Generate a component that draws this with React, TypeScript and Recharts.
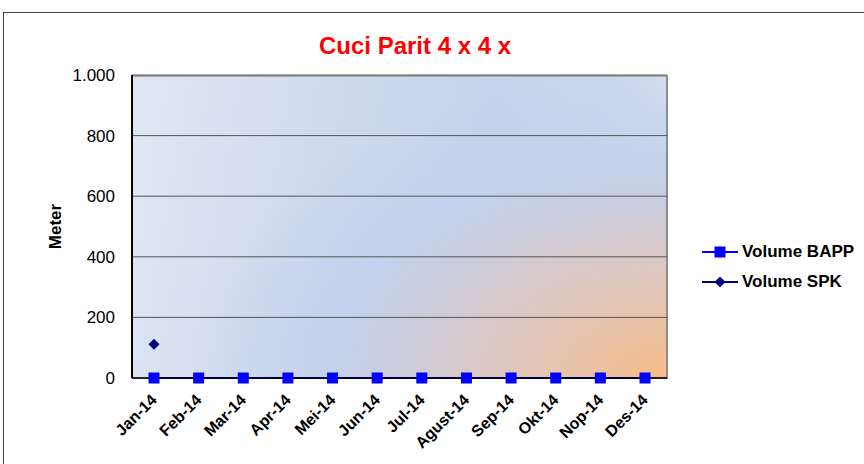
import { LineChart, Line, XAxis, YAxis, CartesianGrid, Legend } from 'recharts';

const months = ['Jan-14', 'Feb-14', 'Mar-14', 'Apr-14', 'Mei-14', 'Jun-14', 'Jul-14', 'Agust-14', 'Sep-14', 'Okt-14', 'Nop-14', 'Des-14'];
const volumeBapp = [0, 0, 0, 0, 0, 0, 0, 0, 0, 0, 0, 0];
const volumeSpk: (number | null)[] = [111, null, null, null, null, null, null, null, null, null, null, null];
const yTicks = [0, 200, 400, 600, 800, 1000];

const data = months.map((m, i) => ({ month: m, bapp: volumeBapp[i], spk: volumeSpk[i] }));

const FONT = '"Liberation Sans", Arial, sans-serif';

const Square = (props: any) => {
  const { cx, cy } = props;
  if (cx == null || cy == null) return null;
  return <rect x={cx - 5.5} y={cy - 5.5} width={11} height={11} fill="#0000ff" />;
};

const Diamond = (props: any) => {
  const { cx, cy, payload } = props;
  if (cx == null || cy == null || payload?.spk == null) return null;
  return <path d={`M${cx},${cy - 5.5}L${cx + 5.5},${cy}L${cx},${cy + 5.5}L${cx - 5.5},${cy}Z`} fill="#000080" />;
};

const XTick = ({ x, y, payload }: any) => (
  <text x={x} y={y + 11} transform={`rotate(-45 ${x} ${y + 11})`} textAnchor="end" dominantBaseline="central"
    fontFamily={FONT} fontSize={16} fontWeight="bold" fill="#000">
    {payload.value}
  </text>
);

const legendItems = [
  { label: 'Volume BAPP', color: '#0000ff', marker: 'square' },
  { label: 'Volume SPK', color: '#000080', marker: 'diamond' },
];

const LegendContent = () => (
  <div style={{ fontFamily: FONT, fontSize: 17, fontWeight: 'bold', color: '#000' }}>
    {legendItems.map((it) => (
      <div key={it.label} style={{ display: 'flex', alignItems: 'center', height: 30 }}>
        <svg width={36} height={12} style={{ marginRight: 4 }}>
          <line x1={0} y1={6} x2={36} y2={6} stroke={it.color} strokeWidth={2} />
          {it.marker === 'square'
            ? <rect x={12.5} y={0.5} width={11} height={11} fill={it.color} />
            : <path d="M18,0.5L23.5,6L18,11.5L12.5,6Z" fill={it.color} />}
        </svg>
        <span>{it.label}</span>
      </div>
    ))}
  </div>
);

export default function App() {
  return (
    <div style={{ position: 'absolute', left: 0, top: 0, width: 864, height: 464, overflow: 'hidden', background: '#fff' }}>
      <div style={{ position: 'absolute', left: 3, top: 12, width: 900, height: 500, border: '1px solid #404040' }} />
      <div style={{
        position: 'absolute', left: 133, top: 75, width: 533, height: 302,
        borderTop: '2px solid #a8a8a8', borderRight: '2px solid #8c8c8c',
        background: 'radial-gradient(ellipse 560px 360px at 100% 100%, #f7bc88 0%, #e6c4b0 20%, #d8c9ca 36%, #c8cde0 50%, rgba(194,209,236,0.95) 60%, rgba(194,209,236,0) 85%), linear-gradient(100deg, #e0e6f3 0%, #cfdaef 35%, #c5d3ec 62%, #cbd7ee 82%, #dde4f2 100%)',
      }} />
      <div style={{ position: 'absolute', left: 0, width: 830, top: 32, textAlign: 'center', fontFamily: FONT, fontSize: 24, fontWeight: 'bold', color: '#ff0000' }}>
        Cuci Parit 4 x 4 x
      </div>
      <div style={{ position: 'absolute', left: 0, top: 0 }}>
        <LineChart width={864} height={464} data={data} margin={{ top: 75, right: 197, left: 72, bottom: 26 }}>
          <CartesianGrid horizontal vertical={false} stroke="#555" strokeWidth={1} />
          <XAxis dataKey="month" axisLine={{ stroke: '#000', strokeWidth: 1.5 }} tickLine={false} height={60} interval={0}
            padding={{ left: 22, right: 22 }} tick={<XTick />} />
          <YAxis domain={[0, 1000]} ticks={yTicks} width={60} axisLine={{ stroke: '#000', strokeWidth: 2 }} tickLine={false}
            tickMargin={11}
            tickFormatter={(v: number) => v.toLocaleString('de-DE')}
            tick={{ fontFamily: FONT, fontSize: 17, fill: '#000' }}
            label={{ value: 'Meter', angle: -90, position: 'left', offset: 17, style: { fontFamily: FONT, fontSize: 17, fontWeight: 'bold', fill: '#000', textAnchor: 'middle' } }} />
          <Legend layout="vertical" align="center" verticalAlign="middle" content={<LegendContent />}
            wrapperStyle={{ left: 702, top: 237, width: 162 }} />
          <Line dataKey="spk" name="Volume SPK" stroke="#000080" strokeWidth={2} dot={<Diamond />} isAnimationActive={false} />
          <Line dataKey="bapp" name="Volume BAPP" stroke="#0000ff" strokeWidth={2} dot={<Square />} isAnimationActive={false} />
        </LineChart>
      </div>
    </div>
  );
}
